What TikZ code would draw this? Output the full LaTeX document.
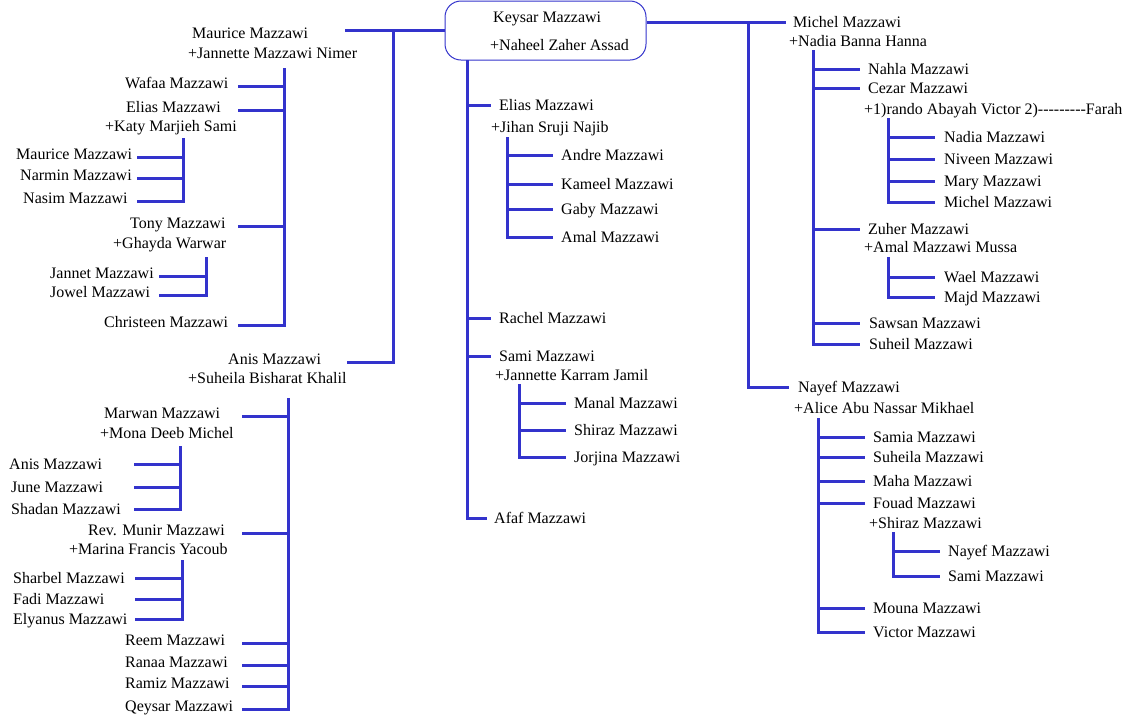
\documentclass[tikz,border=0pt]{standalone}
\usepackage{fontspec}
\setmainfont{Liberation Serif}
\definecolor{famblue}{RGB}{51,51,204}
\tikzset{
  link/.style={draw=famblue, line width=3pt},
  person/.style={anchor=west, inner sep=0pt, text height=11pt, text depth=5.5pt,
    font=\fontsize{16pt}{19pt}\selectfont},
  kid/.style={person, text depth=0pt},
}
\begin{document}
\begin{tikzpicture}[x=1pt, y=-1pt]
\useasboundingbox (0,0) rectangle (1140,724);
\fill[white] (0,0) rectangle (1140,724);

% root couple
\node[draw=famblue, line width=1pt, rounded corners=16pt, minimum width=201pt, minimum height=59pt, inner sep=0pt] (keysarbox) at (545.5,30.5) {};
\node[person] (keysar) at (493,19.5) {Keysar Mazzawi};
\node[person] (naheel) at (490,47.5) {+Naheel Zaher Assad};

% left branch
\node[person] (maurice) at (192,35.5) {Maurice Mazzawi};
\node[person] (jannetteN) at (188,55.5) {+Jannette Mazzawi Nimer};
\node[person] (anis) at (228,362) {Anis Mazzawi};
\node[person] (suheilaB) at (188,380.5) {+Suheila Bisharat Khalil};
\coordinate (leftB) at (393,31);
\draw[link] (keysarbox.west) -- ++(-100,0);
\draw[link] (leftB) -- (leftB |- anis) -- ++(-46,0);

% Maurice's children
\node[person] (wafaa) at (125,86) {Wafaa Mazzawi};
\node[person] (eliasK) at (126,110) {Elias Mazzawi};
\node[person] (katy) at (105,128.5) {+Katy Marjieh Sami};
\node[person] (tony) at (130,226) {Tony Mazzawi};
\node[person] (ghayda) at (113,245.5) {+Ghayda Warwar};
\node[person] (christeen) at (104,325) {Christeen Mazzawi};
\coordinate (mauB) at (284,68);
\foreach \c in {wafaa,eliasK,tony} \draw[link] (mauB |- \c) -- ++(-46,0);
\draw[link] (mauB) -- (mauB |- christeen) -- ++(-46,0);

\node[person] (mauriceE) at (16,157) {Maurice Mazzawi};
\node[person] (narmin) at (20,178) {Narmin Mazzawi};
\node[person] (nasim) at (23,201) {Nasim Mazzawi};
\coordinate (eliasKB) at (183,138);
\foreach \c in {mauriceE,narmin} \draw[link] (eliasKB |- \c) -- ++(-46,0);
\draw[link] (eliasKB) -- (eliasKB |- nasim) -- ++(-46,0);

\node[person] (jannet) at (50,276) {Jannet Mazzawi};
\node[person] (jowel) at (50,295) {Jowel Mazzawi};
\coordinate (tonyB) at (206,257);
\draw[link] (tonyB |- jannet) -- ++(-47,0);
\draw[link] (tonyB) -- (tonyB |- jowel) -- ++(-47,0);

% Anis's children
\node[person] (marwan) at (104,416) {Marwan Mazzawi};
\node[person] (mona) at (100,435.5) {+Mona Deeb Michel};
\node[person] (munir) at (88,533) {Rev. Munir Mazzawi};
\node[person] (marina) at (69,551.5) {+Marina Francis Yacoub};
\node[person] (reem) at (125,643) {Reem Mazzawi};
\node[person] (ranaa) at (125,665) {Ranaa Mazzawi};
\node[person] (ramiz) at (125,686) {Ramiz Mazzawi};
\node[person] (qeysar) at (125,709) {Qeysar Mazzawi};
\coordinate (anisB) at (288,398);
\foreach \c in {marwan,munir,reem,ranaa,ramiz} \draw[link] (anisB |- \c) -- ++(-46,0);
\draw[link] (anisB) -- (anisB |- qeysar) -- ++(-46,0);

\node[kid] (anisM) at (9,464) {Anis Mazzawi};
\node[kid] (june) at (11,487) {June Mazzawi};
\node[kid] (shadan) at (11,509) {Shadan Mazzawi};
\coordinate (marwanB) at (180,446);
\foreach \c in {anisM,june} \draw[link] (marwanB |- \c) -- ++(-46,0);
\draw[link] (marwanB) -- (marwanB |- shadan) -- ++(-46,0);

\node[kid] (sharbel) at (13,578) {Sharbel Mazzawi};
\node[kid] (fadi) at (13,599) {Fadi Mazzawi};
\node[kid] (elyanus) at (13,619) {Elyanus Mazzawi};
\coordinate (munirB) at (182,560);
\foreach \c in {sharbel,fadi} \draw[link] (munirB |- \c) -- ++(-47,0);
\draw[link] (munirB) -- (munirB |- elyanus) -- ++(-47,0);

% middle branch
\node[kid] (eliasJ) at (499,105) {Elias Mazzawi};
\node[person] (jihan) at (491,129.5) {+Jihan Sruji Najib};
\node[kid] (rachel) at (499,318) {Rachel Mazzawi};
\node[kid] (sami) at (499,356) {Sami Mazzawi};
\node[person] (jannetteK) at (495,377.5) {+Jannette Karram Jamil};
\node[kid] (afaf) at (494,518) {Afaf Mazzawi};
\coordinate (midB) at (467,60);
\foreach \c in {eliasJ,rachel,sami} \draw[link] (midB |- \c) -- ++(24,0);
\draw[link] (midB) -- (midB |- afaf) -- ++(20,0);

\node[kid] (andre) at (561,155) {Andre Mazzawi};
\node[kid] (kameel) at (561,184) {Kameel Mazzawi};
\node[kid] (gaby) at (561,209) {Gaby Mazzawi};
\node[kid] (amal) at (561,237) {Amal Mazzawi};
\coordinate (eliasJB) at (507,137);
\foreach \c in {andre,kameel,gaby} \draw[link] (eliasJB |- \c) -- ++(46,0);
\draw[link] (eliasJB) -- (eliasJB |- amal) -- ++(46,0);

\node[kid] (manal) at (574,403) {Manal Mazzawi};
\node[kid] (shirazS) at (574,430) {Shiraz Mazzawi};
\node[kid] (jorjina) at (574,457) {Jorjina Mazzawi};
\coordinate (samiB) at (519,384);
\foreach \c in {manal,shirazS} \draw[link] (samiB |- \c) -- ++(47,0);
\draw[link] (samiB) -- (samiB |- jorjina) -- ++(47,0);

% right branch
\node[kid] (michel) at (793,22) {Michel Mazzawi};
\node[person] (nadiaB) at (789,43.5) {+Nadia Banna Hanna};
\node[kid] (nayef) at (798,387) {Nayef Mazzawi};
\node[person] (alice) at (794,410.5) {+Alice Abu Nassar Mikhael};
\coordinate (rightB) at (748,22);
\draw[link] (keysarbox.east |- michel) -- ++(139,0);
\draw[link] (rightB) -- (rightB |- nayef) -- ++(41,0);

\node[kid] (nahla) at (868,69) {Nahla Mazzawi};
\node[kid] (cezar) at (868,88) {Cezar Mazzawi};
\node[person] (farah) at (864,111.5) {+1)rando Abayah Victor 2)-{}-{}-{}-{}-{}-{}-{}-{}-Farah};
\node[kid] (zuher) at (868,229) {Zuher Mazzawi};
\node[person] (amalM) at (864,249.5) {+Amal Mazzawi Mussa};
\node[kid] (sawsan) at (869,323) {Sawsan Mazzawi};
\node[kid] (suheil) at (869,344) {Suheil Mazzawi};
\coordinate (michelB) at (813,50);
\foreach \c in {nahla,cezar,zuher,sawsan} \draw[link] (michelB |- \c) -- ++(47,0);
\draw[link] (michelB) -- (michelB |- suheil) -- ++(47,0);

\node[kid] (nadia) at (944,137) {Nadia Mazzawi};
\node[kid] (niveen) at (944,159) {Niveen Mazzawi};
\node[kid] (mary) at (944,181) {Mary Mazzawi};
\node[kid] (michelC) at (944,202) {Michel Mazzawi};
\coordinate (cezarB) at (888,118);
\foreach \c in {nadia,niveen,mary} \draw[link] (cezarB |- \c) -- ++(47,0);
\draw[link] (cezarB) -- (cezarB |- michelC) -- ++(47,0);

\node[kid] (wael) at (944,277) {Wael Mazzawi};
\node[kid] (majd) at (944,297) {Majd Mazzawi};
\coordinate (zuherB) at (888,257);
\draw[link] (zuherB |- wael) -- ++(47,0);
\draw[link] (zuherB) -- (zuherB |- majd) -- ++(47,0);

\node[kid] (samia) at (873,437) {Samia Mazzawi};
\node[kid] (suheilaN) at (873,457) {Suheila Mazzawi};
\node[kid] (maha) at (873,481) {Maha Mazzawi};
\node[kid] (fouad) at (873,503) {Fouad Mazzawi};
\node[person] (shirazF) at (869,525.5) {+Shiraz Mazzawi};
\node[kid] (mouna) at (873,608) {Mouna Mazzawi};
\node[kid] (victor) at (873,632) {Victor Mazzawi};
\coordinate (nayefB) at (818,418);
\foreach \c in {samia,suheilaN,maha,fouad,mouna} \draw[link] (nayefB |- \c) -- ++(47,0);
\draw[link] (nayefB) -- (nayefB |- victor) -- ++(47,0);

\node[kid] (nayefF) at (948,551) {Nayef Mazzawi};
\node[kid] (samiF) at (948,576) {Sami Mazzawi};
\coordinate (fouadB) at (893,532);
\draw[link] (fouadB |- nayefF) -- ++(47,0);
\draw[link] (fouadB) -- (fouadB |- samiF) -- ++(47,0);
\end{tikzpicture}
\end{document}
